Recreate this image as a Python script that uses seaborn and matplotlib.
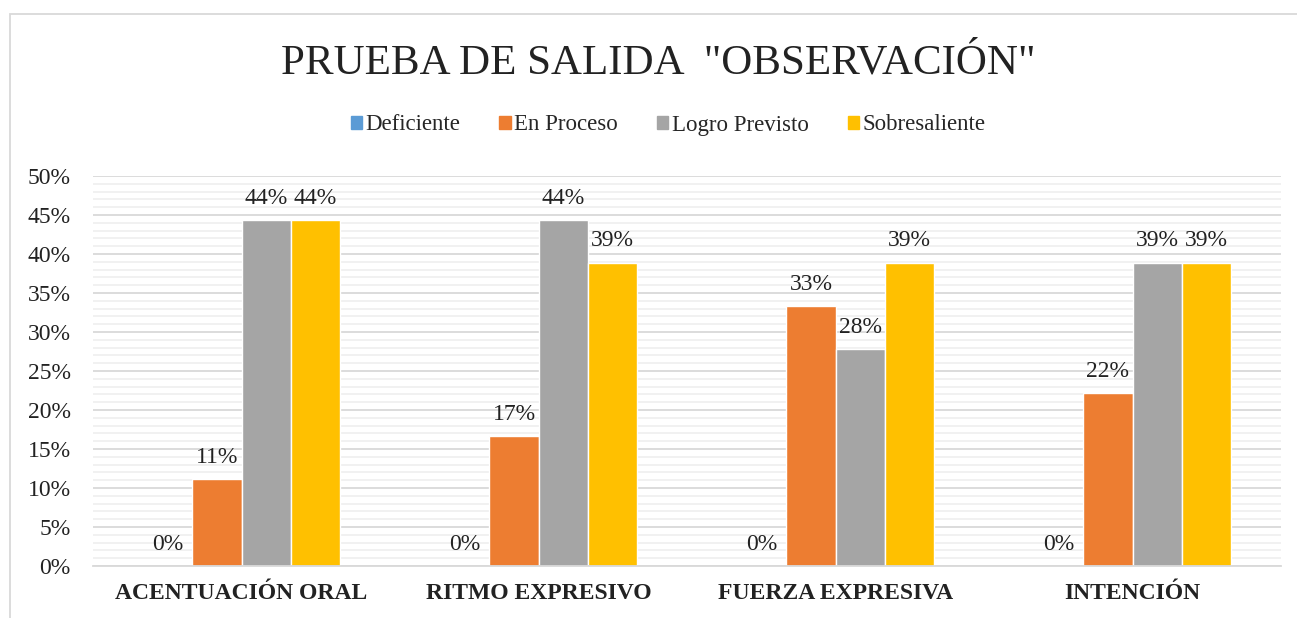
import numpy as np
import pandas as pd
import matplotlib.pyplot as plt
import seaborn as sns
from matplotlib.patches import Rectangle
from matplotlib.ticker import MultipleLocator, PercentFormatter

categories = ["ACENTUACIÓN ORAL", "RITMO EXPRESIVO", "FUERZA EXPRESIVA", "INTENCIÓN"]
levels = ["Deficiente", "En Proceso", "Logro Previsto", "Sobresaliente"]
deficiente = [0.0, 0.0, 0.0, 0.0]
en_proceso = [0.111, 0.167, 0.333, 0.222]
logro_previsto = [0.444, 0.444, 0.278, 0.389]
sobresaliente = [0.444, 0.389, 0.389, 0.389]
colors = ["#5B9BD5", "#ED7D31", "#A5A5A5", "#FFC000"]

df = pd.DataFrame({
    "categoria": categories * 4,
    "nivel": np.repeat(levels, 4),
    "valor": deficiente + en_proceso + logro_previsto + sobresaliente,
})

sns.set_theme(style="white")
plt.rcParams["font.family"] = ["Liberation Serif", "DejaVu Serif"]

W, H = 1297, 618
fig = plt.figure(figsize=(W / 100, H / 100), dpi=100)
ax = fig.add_axes([93 / W, 1 - 566 / H, (1281 - 93) / W, (566 - 176) / H])

sns.barplot(data=df, x="categoria", y="valor", hue="nivel", hue_order=levels,
            order=categories, palette=colors, width=0.66, gap=0,
            saturation=1, ax=ax, legend=False)

for cont in ax.containers:
    ax.bar_label(cont, labels=[f"{v:.0%}" for v in cont.datavalues],
                 padding=8, fontsize=17, color="#222222")

ax.set_ylim(0, 0.5)
ax.set_xlim(-0.5, 3.5)
ax.yaxis.set_major_locator(MultipleLocator(0.05))
ax.yaxis.set_minor_locator(MultipleLocator(0.01))
ax.yaxis.set_major_formatter(PercentFormatter(1.0, decimals=0))
ax.grid(axis="y", which="major", color="#d9d9d9", lw=1.3, zorder=0)
ax.grid(axis="y", which="minor", color="#f0f0f0", lw=1.3, zorder=0)
ax.set_axisbelow(True)
for s in ["top", "right", "left"]:
    ax.spines[s].set_visible(False)
ax.spines["bottom"].set_color("#d9d9d9")
ax.spines["bottom"].set_linewidth(1.3)
ax.tick_params(axis="both", which="both", length=0, labelsize=17, colors="#222222")
ax.tick_params(axis="y", pad=16)
ax.tick_params(axis="x", pad=12)
for lbl in ax.get_xticklabels():
    lbl.set_fontweight("bold")
    lbl.set_fontsize(17)
ax.set_xlabel("")
ax.set_ylabel("")

handles = [Rectangle((0, 0), 1, 1, color=c) for c in colors]
fig.legend(handles, levels, loc="center", bbox_to_anchor=(668 / W, 1 - 125 / H),
           ncol=4, frameon=False, fontsize=16.5, handlelength=0.5, handleheight=0.5,
           handletextpad=0.15, columnspacing=1.7)

fig.text(658 / W, 1 - 63 / H, 'PRUEBA DE SALIDA  "OBSERVACIÓN"', ha="center",
         va="center", fontsize=31, color="#222222")

fig.patches.append(Rectangle((10 / W, -0.01), 1.2, 1 - 14 / H + 0.01,
                             transform=fig.transFigure, fill=False,
                             edgecolor="#d9d9d9", lw=1.3))

fig.savefig("out.png", dpi=100)
